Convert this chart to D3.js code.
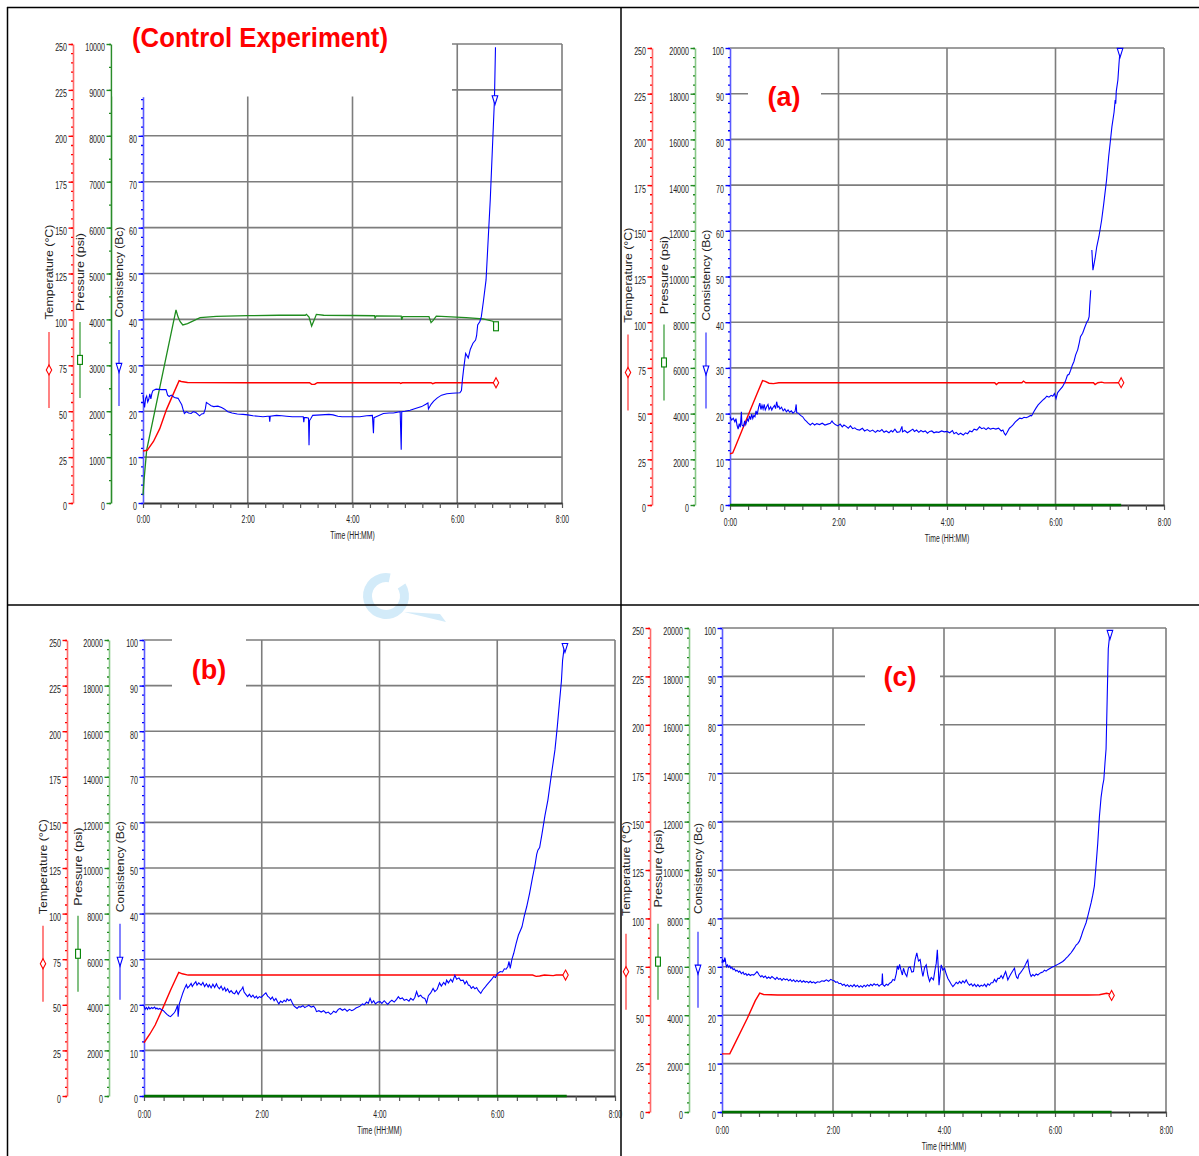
<!DOCTYPE html>
<html>
<head>
<meta charset="utf-8">
<script src="https://cdn.jsdelivr.net/npm/d3@7"></script>
<style>
  body { margin: 0; background: #fff; }
  svg text { font-family: "Liberation Sans", Arial, sans-serif; }
</style>
</head>
<body>
<svg id="chart" width="1199" height="1156"></svg>
<script>
// ---- tick labels ----
const timeTicks = [0, 2, 4, 6, 8];
const timeLabels = ["0:00", "2:00", "4:00", "6:00", "8:00"];
const tempTicks = [0, 25, 50, 75, 100, 125, 150, 175, 200, 225, 250];
const consTicks = [0, 10, 20, 30, 40, 50, 60, 70, 80, 90, 100];
const presTicks10k = [0, 1000, 2000, 3000, 4000, 5000, 6000, 7000, 8000, 9000, 10000];
const presTicks20k = [0, 2000, 4000, 6000, 8000, 10000, 12000, 14000, 16000, 18000, 20000];

// ---- series: [hours, value] ----
// Control experiment
const ctrlTemp = [[0,28.3],[0.08,28.7],[0.2,33.5],[0.32,40.5],[0.45,51],[0.6,60.8],[0.69,66.6],[0.73,66.2],[0.85,65.6],[2,65.5],[3.18,65.5],[3.22,64.6],[3.28,64.7],[3.33,65.5],[4.9,65.5],[4.92,65.1],[4.95,65.5],[5.5,65.5],[5.53,65.0],[5.58,65.5],[6.74,65.5]];
const ctrlPres = [[0,170],[0.02,500],[0.07,1150],[0.63,4205],[0.67,4050],[0.71,3950],[0.76,3880],[0.85,3910],[1.09,4037],[1.4,4065],[2.0,4081],[2.6,4090],[3.1,4090],[3.12,4110],[3.17,4050],[3.22,3856],[3.27,3990],[3.31,4110],[3.45,4090],[4.0,4085],[4.42,4080],[4.43,4030],[4.45,4075],[4.93,4070],[4.94,3990],[4.96,4060],[5.46,4060],[5.5,3930],[5.54,3980],[5.6,4070],[6.17,4040],[6.49,4010],[6.68,3960],[6.74,3850]];
const ctrlCons = [[0,23.5],[0.02,21.5],[0.03,20.8],[0.05,22.8],[0.07,23.3],[0.09,22.0],[0.11,22.6],[0.13,23.8],[0.15,22.7],[0.17,23.9],[0.19,24.5],[0.25,24.8],[0.35,24.7],[0.44,24.7],[0.47,23.5],[0.5,23.2],[0.54,23.5],[0.6,23.0],[0.67,22.8],[0.71,22.0],[0.74,21.4],[0.77,20.2],[0.79,19.5],[0.83,19.9],[0.87,19.6],[0.92,19.5],[0.96,19.9],[1.01,19.7],[1.05,19.3],[1.08,19.0],[1.12,19.4],[1.16,19.5],[1.19,20.5],[1.21,21.9],[1.25,21.6],[1.3,21.2],[1.35,21.0],[1.43,21.1],[1.5,20.8],[1.55,20.5],[1.62,19.9],[1.7,19.6],[1.8,19.4],[1.91,19.3],[2.0,19.2],[2.1,19.0],[2.2,18.9],[2.29,18.8],[2.38,18.9],[2.41,18.9],[2.42,17.7],[2.43,18.9],[2.55,19.1],[2.65,19.0],[2.74,18.9],[2.85,18.8],[2.93,18.8],[3.06,18.8],[3.07,17.6],[3.08,18.6],[3.12,18.6],[3.16,18.5],[3.17,12.6],[3.18,18.0],[3.2,18.3],[3.24,19.1],[3.4,19.2],[3.55,19.3],[3.63,19.2],[3.72,18.9],[3.8,18.8],[4.0,18.8],[4.14,18.8],[4.27,19.0],[4.38,19.1],[4.4,15.2],[4.41,18.6],[4.45,18.8],[4.59,19.5],[4.7,19.6],[4.78,19.6],[4.91,19.9],[4.93,11.6],[4.94,19.9],[5.0,20.0],[5.1,20.2],[5.2,20.6],[5.32,21.0],[5.4,21.5],[5.44,21.8],[5.45,20.5],[5.5,21.5],[5.55,22.2],[5.62,22.9],[5.7,23.5],[5.8,23.8],[5.9,23.9],[6.05,24.0],[6.08,24.5],[6.1,27.0],[6.12,29.0],[6.16,32.6],[6.19,32.0],[6.21,31.6],[6.25,33.5],[6.3,34.8],[6.35,35.5],[6.37,36.5],[6.39,38.8],[6.43,39.5],[6.46,40.6],[6.5,44.0],[6.55,48.6],[6.58,55.1],[6.63,66.0],[6.67,76.9],[6.71,87.8],[6.73,99.3]];
const ctrlConsMark = [6.72, 88.4];

// Test (a)
const aTemp = [[0,28.0],[0.05,28.5],[0.1,32],[0.31,47.3],[0.5,61],[0.6,68.0],[0.65,67.6],[0.72,66.6],[0.8,66.4],[0.9,66.9],[4.88,66.9],[4.91,65.9],[4.95,66.9],[5.38,66.9],[5.41,67.8],[5.45,66.9],[6.7,66.9],[6.73,65.9],[6.78,66.9],[6.85,67.2],[6.9,66.8],[7.21,66.9]];
const aPres = [[0,0],[7.21,0]];
const aCons = [[0,19.3],[0.03,18.6],[0.06,19.0],[0.09,18.2],[0.11,18.9],[0.13,17.4],[0.15,16.6],[0.17,17.8],[0.19,17.0],[0.21,20.4],[0.22,17.5],[0.25,17.2],[0.27,18.4],[0.29,17.6],[0.32,18.8],[0.34,18.4],[0.36,19.5],[0.38,18.7],[0.4,19.9],[0.42,18.9],[0.44,19.6],[0.46,19.3],[0.48,20.6],[0.5,19.8],[0.53,21.5],[0.55,22.3],[0.57,20.9],[0.59,21.8],[0.61,21.0],[0.63,22.0],[0.65,20.8],[0.68,21.6],[0.7,22.0],[0.72,20.9],[0.75,21.5],[0.77,20.8],[0.79,21.3],[0.82,21.8],[0.84,21.1],[0.86,22.6],[0.88,21.4],[0.9,21.6],[0.92,21.0],[0.95,21.4],[0.98,20.6],[1.01,21.0],[1.04,20.4],[1.07,20.8],[1.1,20.3],[1.13,20.6],[1.16,20.1],[1.2,20.5],[1.22,22.0],[1.23,20.2],[1.26,20.1],[1.3,19.6],[1.34,19.3],[1.38,18.6],[1.41,18.3],[1.44,17.9],[1.48,17.5],[1.52,17.9],[1.56,17.5],[1.6,17.8],[1.65,17.6],[1.7,17.9],[1.75,17.5],[1.8,17.7],[1.85,17.9],[1.88,18.4],[1.9,18.0],[1.94,17.6],[1.99,17.3],[2.03,17.7],[2.07,17.1],[2.1,17.5],[2.14,17.2],[2.18,16.8],[2.22,17.3],[2.26,16.7],[2.3,16.9],[2.34,16.5],[2.39,16.4],[2.44,16.8],[2.48,16.2],[2.53,16.5],[2.58,16.1],[2.63,16.4],[2.68,15.9],[2.72,16.3],[2.76,16.1],[2.8,16.5],[2.84,15.9],[2.88,16.2],[2.93,15.8],[2.97,16.3],[3.0,16.0],[3.04,16.6],[3.08,15.9],[3.13,16.0],[3.17,17.2],[3.18,16.0],[3.22,16.3],[3.27,15.8],[3.32,16.2],[3.37,16.6],[3.4,16.1],[3.44,16.4],[3.48,15.9],[3.52,16.3],[3.56,16.0],[3.6,16.2],[3.64,15.7],[3.68,16.1],[3.72,16.2],[3.76,15.8],[3.8,16.0],[3.85,15.9],[3.9,16.2],[3.95,16.0],[4.0,16.1],[4.05,15.8],[4.1,16.3],[4.13,15.6],[4.17,15.9],[4.21,15.4],[4.25,15.7],[4.3,15.3],[4.34,15.8],[4.38,15.6],[4.42,16.2],[4.46,16.0],[4.5,16.6],[4.55,16.4],[4.6,17.1],[4.64,16.7],[4.68,16.9],[4.72,16.5],[4.76,16.9],[4.8,16.6],[4.85,16.8],[4.9,16.6],[4.95,16.8],[5.0,16.2],[5.03,16.4],[5.06,15.6],[5.08,15.3],[5.11,15.9],[5.15,16.8],[5.19,17.2],[5.22,17.6],[5.26,18.2],[5.3,18.6],[5.34,19.0],[5.38,18.9],[5.42,19.2],[5.46,19.1],[5.5,19.3],[5.54,19.6],[5.56,19.5],[5.6,20.4],[5.64,21.2],[5.68,21.9],[5.72,22.4],[5.76,22.9],[5.8,23.3],[5.84,23.8],[5.88,23.6],[5.92,24.0],[5.95,23.8],[5.98,24.4],[6.01,23.3],[6.04,24.6],[6.08,25.2],[6.13,25.9],[6.18,27.0],[6.22,28.4],[6.25,28.6],[6.28,29.5],[6.31,30.6],[6.34,31.4],[6.37,32.8],[6.41,34.0],[6.44,35.6],[6.46,36.8],[6.5,37.6],[6.54,38.9],[6.58,40.1],[6.6,40.4],[6.62,41.2],[6.63,43.5],[6.65,47.0],null,[6.67,55.8],[6.69,51.4],[6.73,54.0],[6.76,56.5],[6.8,58.7],[6.85,62.3],[6.89,66.0],[6.94,71.0],[6.98,76.2],[7.01,79.5],[7.04,82.8],[7.08,86.0],[7.1,88.6],[7.11,87.8],[7.12,90.5],[7.15,93.0],[7.17,96.5],[7.19,99.6]];

// Test (b)
const bTemp = [[0,29.2],[0.1,34],[0.19,38.9],[0.33,49],[0.45,58],[0.55,65],[0.59,67.8],[0.65,67.0],[0.75,66.3],[6.6,66.3],[6.66,65.6],[6.72,65.8],[6.8,66.3],[6.95,66.0],[7.0,66.3],[7.16,66.3]];
const bPres = [[0,0],[7.18,0]];
const bCons = [[0,19.7],[0.02,19.0],[0.04,19.4],[0.06,19.0],[0.08,19.5],[0.1,19.1],[0.13,19.4],[0.15,19.2],[0.18,19.5],[0.2,19.1],[0.22,19.3],[0.24,19.0],[0.27,19.2],[0.3,18.9],[0.33,18.7],[0.36,18.3],[0.39,17.9],[0.42,17.6],[0.45,17.4],[0.48,17.8],[0.51,18.2],[0.53,18.6],[0.55,19.2],[0.57,19.9],[0.58,17.4],[0.6,20.2],[0.63,21.4],[0.66,22.6],[0.69,23.6],[0.72,24.4],[0.74,23.7],[0.77,24.1],[0.8,24.7],[0.82,24.0],[0.85,24.6],[0.88,25.1],[0.9,24.3],[0.93,24.8],[0.97,24.3],[1.0,24.9],[1.03,24.0],[1.06,24.6],[1.09,23.9],[1.11,24.4],[1.14,23.7],[1.17,24.5],[1.2,23.8],[1.23,24.6],[1.25,24.0],[1.28,23.5],[1.31,24.1],[1.34,23.2],[1.37,23.8],[1.39,23.0],[1.42,23.5],[1.45,22.7],[1.48,23.1],[1.51,22.6],[1.54,22.4],[1.57,23.1],[1.6,22.3],[1.63,23.0],[1.66,23.4],[1.68,23.9],[1.7,22.8],[1.73,22.3],[1.76,21.8],[1.79,22.3],[1.82,21.7],[1.85,22.1],[1.88,21.5],[1.91,21.9],[1.93,21.4],[1.96,21.8],[1.99,21.6],[2.02,22.0],[2.05,22.4],[2.07,22.6],[2.1,21.9],[2.13,21.6],[2.15,21.2],[2.18,21.7],[2.21,20.9],[2.24,21.4],[2.27,20.6],[2.29,20.2],[2.32,20.8],[2.35,20.5],[2.38,21.0],[2.41,20.7],[2.43,21.3],[2.46,20.9],[2.49,21.2],[2.52,20.4],[2.55,19.7],[2.58,19.4],[2.6,19.2],[2.63,19.6],[2.66,19.5],[2.7,19.8],[2.73,19.4],[2.76,19.6],[2.8,19.9],[2.84,19.5],[2.88,19.7],[2.91,19.2],[2.93,18.5],[2.97,18.7],[3.01,18.4],[3.05,18.7],[3.09,18.2],[3.13,18.4],[3.17,17.9],[3.19,18.1],[3.22,18.6],[3.26,18.3],[3.3,19.0],[3.33,19.2],[3.37,18.8],[3.41,19.1],[3.45,18.6],[3.49,19.0],[3.53,18.7],[3.56,18.9],[3.6,19.3],[3.64,19.5],[3.67,19.7],[3.71,20.2],[3.74,20.0],[3.78,20.6],[3.81,20.3],[3.84,21.4],[3.87,20.4],[3.9,20.9],[3.93,20.2],[3.97,20.6],[4.01,20.7],[4.04,20.3],[4.08,20.9],[4.11,20.5],[4.14,20.1],[4.18,20.7],[4.21,21.0],[4.25,20.6],[4.29,21.2],[4.32,21.8],[4.35,21.3],[4.39,21.5],[4.42,21.0],[4.46,21.2],[4.5,20.8],[4.53,21.4],[4.57,21.0],[4.6,21.6],[4.63,22.9],[4.66,21.8],[4.7,22.1],[4.73,21.6],[4.77,21.4],[4.8,20.4],[4.83,22.0],[4.87,22.6],[4.91,23.6],[4.94,22.9],[4.98,23.4],[5.02,24.8],[5.05,24.1],[5.09,24.9],[5.12,24.4],[5.14,25.4],[5.17,24.8],[5.21,25.6],[5.24,25.0],[5.28,26.5],[5.31,25.6],[5.35,25.9],[5.38,25.3],[5.42,25.4],[5.45,24.6],[5.48,25.2],[5.51,24.3],[5.53,24.3],[5.56,23.6],[5.59,24.0],[5.62,23.5],[5.65,23.8],[5.68,23.1],[5.72,22.5],[5.75,23.2],[5.79,23.8],[5.82,24.3],[5.86,24.9],[5.9,25.5],[5.94,26.2],[5.97,26.0],[6.0,26.8],[6.05,27.3],[6.09,27.2],[6.12,27.9],[6.15,27.8],[6.18,28.4],[6.2,29.5],[6.22,28.0],[6.25,30.0],[6.28,31.3],[6.32,33.4],[6.36,35.3],[6.39,36.2],[6.42,37.1],[6.46,39.5],[6.5,41.5],[6.55,44.5],[6.6,48.0],[6.64,50.5],[6.67,53.0],[6.69,53.9],[6.72,54.5],[6.76,57.5],[6.81,61.5],[6.86,64.9],[6.92,70.5],[6.98,75.9],[7.02,81.0],[7.06,86.8],[7.09,91.0],[7.11,95.6],[7.13,97.6],[7.15,98.9]];

// Test (c)
const cTemp = [[0,30.0],[0.14,30.0],[0.2,33.5],[0.45,48],[0.6,57.5],[0.68,61.4],[0.75,60.7],[1.0,60.4],[6.6,60.4],[6.8,60.6],[6.93,61.3],[6.98,61.0],[7.02,60.2]];
const cPres = [[0,0],[7.02,0]];
const cCons = [[0,30.8],[0.01,31.6],[0.02,30.9],[0.03,31.4],[0.04,31.0],[0.05,31.9],[0.06,31.5],[0.07,30.6],[0.08,30.0],[0.1,30.4],[0.12,29.9],[0.14,30.2],[0.16,29.7],[0.18,29.9],[0.2,29.4],[0.22,29.6],[0.25,29.1],[0.27,29.3],[0.3,28.9],[0.32,29.1],[0.35,28.6],[0.38,28.9],[0.4,28.4],[0.43,28.6],[0.45,28.2],[0.48,28.5],[0.51,28.2],[0.54,28.4],[0.57,28.3],[0.6,28.6],[0.63,29.0],[0.65,28.7],[0.67,28.3],[0.7,27.9],[0.72,28.2],[0.75,27.8],[0.78,28.1],[0.81,27.6],[0.84,27.9],[0.87,27.6],[0.9,28.0],[0.93,27.7],[0.96,27.4],[0.99,27.8],[1.02,27.4],[1.05,27.6],[1.08,27.2],[1.11,27.6],[1.14,27.3],[1.17,27.5],[1.2,27.1],[1.23,27.4],[1.26,27.0],[1.29,27.3],[1.32,26.9],[1.35,27.2],[1.38,26.9],[1.41,27.2],[1.44,26.8],[1.47,27.1],[1.5,26.8],[1.53,27.0],[1.56,26.7],[1.59,27.0],[1.62,26.7],[1.65,26.9],[1.68,26.6],[1.72,26.9],[1.76,26.8],[1.8,27.1],[1.84,27.0],[1.88,27.3],[1.92,27.0],[1.96,27.4],[1.99,27.2],[2.02,27.1],[2.05,26.8],[2.08,26.9],[2.11,26.5],[2.14,26.6],[2.17,26.2],[2.2,26.4],[2.23,26.0],[2.26,26.3],[2.29,25.9],[2.32,26.2],[2.35,25.9],[2.38,26.3],[2.41,25.9],[2.44,26.2],[2.47,25.8],[2.5,26.1],[2.53,25.8],[2.56,26.2],[2.59,25.9],[2.62,26.3],[2.65,26.0],[2.68,26.4],[2.71,26.1],[2.74,26.5],[2.77,26.2],[2.8,26.4],[2.83,26.0],[2.86,26.3],[2.88,26.4],[2.89,28.6],[2.9,26.3],[2.93,26.0],[2.96,26.4],[2.99,26.2],[3.02,26.6],[3.05,26.8],[3.08,27.4],[3.11,27.2],[3.14,28.6],[3.16,30.2],[3.18,29.4],[3.2,30.5],[3.22,29.5],[3.25,28.3],[3.27,29.7],[3.3,28.6],[3.33,28.0],[3.36,29.8],[3.39,30.0],[3.42,28.9],[3.45,29.0],[3.48,31.5],[3.51,32.9],[3.54,31.2],[3.57,31.5],[3.6,29.2],[3.62,28.0],[3.65,29.8],[3.68,30.4],[3.71,28.2],[3.74,27.0],[3.77,27.8],[3.81,27.3],[3.84,29.5],[3.86,30.7],[3.88,33.5],[3.9,29.0],[3.91,26.2],[3.93,28.5],[3.95,30.4],[3.98,29.3],[4.01,29.7],[4.04,28.5],[4.07,27.6],[4.1,27.0],[4.13,26.4],[4.16,25.9],[4.19,26.3],[4.22,26.8],[4.25,26.5],[4.28,27.0],[4.31,26.6],[4.34,27.1],[4.37,26.7],[4.4,27.3],[4.43,26.6],[4.46,26.2],[4.49,26.5],[4.52,26.0],[4.55,26.4],[4.58,25.9],[4.61,26.3],[4.64,25.9],[4.67,26.2],[4.7,26.0],[4.73,26.4],[4.76,25.9],[4.79,26.5],[4.82,26.2],[4.85,26.7],[4.88,26.7],[4.91,27.4],[4.94,26.9],[4.97,27.6],[5.0,27.6],[5.03,28.2],[5.06,27.6],[5.09,28.5],[5.11,29.0],[5.13,28.2],[5.15,27.3],[5.18,28.0],[5.21,28.6],[5.24,29.2],[5.27,29.7],[5.29,28.5],[5.31,27.8],[5.33,27.6],[5.35,28.4],[5.38,28.8],[5.41,29.3],[5.44,29.8],[5.47,30.5],[5.49,31.0],[5.51,31.4],[5.53,29.6],[5.55,28.6],[5.57,28.0],[5.6,28.4],[5.63,28.1],[5.66,28.5],[5.69,28.3],[5.72,28.6],[5.75,28.8],[5.78,28.9],[5.81,29.3],[5.84,29.1],[5.87,29.4],[5.9,29.6],[5.93,29.8],[5.96,30.0],[5.99,30.1],[6.02,30.3],[6.05,30.5],[6.08,30.7],[6.11,30.9],[6.14,31.1],[6.17,31.4],[6.2,31.8],[6.23,32.1],[6.26,32.5],[6.29,32.9],[6.32,33.4],[6.35,33.9],[6.38,34.5],[6.41,34.8],[6.44,35.3],[6.47,36.2],[6.5,37.3],[6.53,38.2],[6.56,39.1],[6.59,40.4],[6.62,41.8],[6.65,43.2],[6.68,44.8],[6.71,46.7],[6.74,51.0],[6.77,55.5],[6.8,61.0],[6.83,65.0],[6.86,67.5],[6.88,68.7],[6.9,72.0],[6.92,75.0],[6.94,85.3],[6.96,95.7],[6.98,98.0],[6.99,99.2]];

// ---- layout ----
const RED = "#ff0000", GREEN = "#008000", BLUE = "#0000ff";
const panels = [
  { tempX: 73, presX: 111, consX: 143, right: 562, top: 44, bottom: 503,
    presMax: 10000, presTicks: presTicks10k, presStep: 500, consTop: 88.5, consLabelMax: 80,
    temp: ctrlTemp, pres: ctrlPres, cons: ctrlCons, consMark: ctrlConsMark, presMark: true,
    presAxisColor: "#2a8c2a", tickPad: 12, timeDy: 36,
    label: "(Control Experiment)", labelX: 260, labelY: 47, labelLen: 256,
    box: [112.5, 9, 339.5, 87.5] },
  { tempX: 652, presX: 695, consX: 730, right: 1164, top: 48, bottom: 505,
    presMax: 20000, presTicks: presTicks20k, presStep: 400, consTop: 100, consLabelMax: 100,
    temp: aTemp, pres: aPres, cons: aCons, presMark: false,
    presAxisColor: "#88c888", tickPad: 13, timeDy: 37,
    label: "(a)", labelX: 784, labelY: 106,
    box: [748, 62, 73, 60] },
  { tempX: 67, presX: 109, consX: 144, right: 615, top: 640, bottom: 1096,
    presMax: 20000, presTicks: presTicks20k, presStep: 400, consTop: 100, consLabelMax: 100,
    temp: bTemp, pres: bPres, cons: bCons, presMark: false,
    presAxisColor: "#88c888", tickPad: 14.5, timeDy: 38,
    label: "(b)", labelX: 209, labelY: 679,
    box: [172, 636, 74, 60] },
  { tempX: 650, presX: 689, consX: 722, right: 1166, top: 628, bottom: 1112,
    presMax: 20000, presTicks: presTicks20k, presStep: 400, consTop: 100, consLabelMax: 100,
    temp: cTemp, pres: cPres, cons: cCons, presMark: false,
    presAxisColor: "#88c888", tickPad: 14.5, timeDy: 38.5,
    label: "(c)", labelX: 900, labelY: 686,
    box: [865, 650, 75, 92] }
];

const svg = d3.select("#chart");
svg.append("rect").attr("width", 1199).attr("height", 1156).attr("fill", "#fff");

// faint watermark ring between the panels
svg.append("path")
  .attr("transform", "translate(386,596)")
  .attr("d", d3.arc()({ innerRadius: 14, outerRadius: 23, startAngle: 1.0, endAngle: 2 * Math.PI + 0.2 }))
  .attr("fill", "#d3ebf9");
svg.append("path").attr("d", "M404,612 L446,622 L440,614 Z").attr("fill", "#d3ebf9");

// frame lines
const frame = svg.append("g").attr("stroke", "#000").attr("stroke-width", 1.5);
frame.append("line").attr("x1", 7).attr("x2", 1199).attr("y1", 7.5).attr("y2", 7.5);
frame.append("line").attr("x1", 7.5).attr("x2", 7.5).attr("y1", 7).attr("y2", 1156);
frame.append("line").attr("x1", 621).attr("x2", 621).attr("y1", 7).attr("y2", 1156);
frame.append("line").attr("x1", 7).attr("x2", 1199).attr("y1", 605).attr("y2", 605);

const SX = 0.62; // condensed tick font
function narrow(sel) {
  sel.each(function () {
    const t = d3.select(this);
    const x0 = +t.attr("x") || 0;
    t.attr("x", x0 / SX).attr("transform", `scale(${SX},1)`);
  });
}

function marker(g, kind, cx, cy, color) {
  if (kind === "diamond") {
    g.append("path").attr("d", `M${cx},${cy - 5}L${cx + 2.7},${cy}L${cx},${cy + 5}L${cx - 2.7},${cy}Z`)
      .attr("fill", "#fff").attr("stroke", color).attr("stroke-width", 1.1);
  } else if (kind === "square") {
    g.append("rect").attr("x", cx - 2.4).attr("y", cy - 4.5).attr("width", 4.8).attr("height", 9)
      .attr("fill", "#fff").attr("stroke", color).attr("stroke-width", 1.1);
  } else {
    g.append("path").attr("d", `M${cx - 2.8},${cy - 4.5}L${cx + 2.8},${cy - 4.5}L${cx},${cy + 4.5}Z`)
      .attr("fill", "#fff").attr("stroke", color).attr("stroke-width", 1.1);
  }
}

function drawPanel(p) {
  const g = svg.append("g");
  const H = p.bottom - p.top;
  const x = d3.scaleLinear().domain([0, 8]).range([p.consX, p.right]);
  const yC = d3.scaleLinear().domain([0, 100]).range([p.bottom, p.top]);
  const yT = d3.scaleLinear().domain([0, 250]).range([p.bottom, p.top]);
  const yP = d3.scaleLinear().domain([0, p.presMax]).range([p.bottom, p.top]);

  // grid
  const grid = g.append("g").attr("stroke", "#7d7d7d").attr("stroke-width", 1.6);
  grid.selectAll(".h").data(consTicks.slice(1)).join("line")
    .attr("x1", p.consX).attr("x2", p.right).attr("y1", d => yC(d)).attr("y2", d => yC(d));
  grid.selectAll(".v").data(timeTicks.slice(1)).join("line")
    .attr("x1", d => x(d)).attr("x2", d => x(d)).attr("y1", p.top).attr("y2", p.bottom);

  // time axis
  const xa = g.append("g").attr("transform", `translate(0,${p.bottom})`);
  xa.call(d3.axisBottom(x).tickValues(d3.range(0, 8.001, 1 / 3)).tickSize(5).tickSizeOuter(0).tickFormat(""));
  xa.selectAll(".tick line").attr("stroke", "#555").attr("stroke-width", 1.2);
  xa.select(".domain").attr("stroke", "#333").attr("stroke-width", 2.2);
  const xl = g.append("g").attr("transform", `translate(0,${p.bottom})`);
  xl.call(d3.axisBottom(x).tickValues(timeTicks).tickSize(0).tickPadding(p.tickPad).tickFormat((d, i) => timeLabels[i]));
  xl.select(".domain").remove();
  xl.selectAll("text").attr("font-size", 11).attr("fill", "#222").call(narrow);
  g.append("text").attr("x", x(4) / SX).attr("y", p.bottom + p.timeDy)
    .attr("transform", `scale(${SX},1)`).attr("text-anchor", "middle")
    .attr("font-size", 11).attr("fill", "#222").text("Time (HH:MM)");

  // y axes
  function yAxis(scale, xPos, ticks, minorStep, lineColor, tickColor, topV) {
    const minor = g.append("g").attr("transform", `translate(${xPos},0)`);
    minor.call(d3.axisLeft(scale.copy().domain([0, topV]).range([scale(0), scale(topV)]))
      .tickValues(d3.range(0, topV + 0.001, minorStep)).tickSize(2).tickSizeOuter(0).tickFormat(""));
    minor.selectAll(".tick line").attr("stroke", tickColor).attr("stroke-width", 1.3);
    minor.select(".domain").attr("stroke", lineColor).attr("stroke-width", 1.6);
    const major = g.append("g").attr("transform", `translate(${xPos},0)`);
    major.call(d3.axisLeft(scale).tickValues(ticks).tickSize(4.5).tickSizeOuter(0).tickPadding(1.5).tickFormat(d3.format("d")));
    major.select(".domain").remove();
    major.selectAll(".tick line").attr("stroke", tickColor).attr("stroke-width", 1.4);
    major.selectAll("text").attr("font-size", 11.5).attr("fill", "#222").attr("dy", "0.6em").call(narrow);
  }
  yAxis(yT, p.tempX, tempTicks, 5, "#ff6a6a", RED, 250);
  yAxis(yP, p.presX, p.presTicks, p.presStep, p.presAxisColor, "#1f8a1f", p.presMax);
  yAxis(yC, p.consX, consTicks.filter(v => v <= p.consLabelMax), 2, "#5a5aff", BLUE, p.consTop);

  // axis titles + legend glyphs
  const mid = p.bottom - 0.503 * H;
  const leg = p.bottom - 0.29 * H;
  const titles = [
    { t: "Temperature (°C)", ax: p.tempX - 20.5, len: 95, lx: p.tempX - 24, ly: leg, c: RED, k: "diamond" },
    { t: "Pressure (psi)", ax: p.presX - 27.5, len: 78, lx: p.presX - 31, ly: leg - 10, c: GREEN, k: "square" },
    { t: "Consistency (Bc)", ax: p.consX - 20.5, len: 91, lx: p.consX - 24, ly: leg - 2, c: BLUE, k: "tri" }
  ];
  titles.forEach(d => {
    g.append("text").attr("transform", `translate(${d.ax},${mid}) rotate(-90)`)
      .attr("text-anchor", "middle").attr("font-size", 10).attr("fill", "#222")
      .attr("textLength", d.len).attr("lengthAdjust", "spacingAndGlyphs").text(d.t);
    g.append("line").attr("x1", d.lx).attr("x2", d.lx).attr("y1", d.ly - 38).attr("y2", d.ly + 38)
      .attr("stroke", d.c).attr("stroke-width", 1.3).attr("opacity", 0.75);
    marker(g, d.k, d.lx, d.ly, d.c);
  });

  // box hiding the top of the grid where the label sits
  g.append("rect").attr("x", p.box[0]).attr("y", p.box[1]).attr("width", p.box[2]).attr("height", p.box[3]).attr("fill", "#fff");
  const lab = g.append("text").attr("x", p.labelX).attr("y", p.labelY).attr("text-anchor", "middle")
    .attr("font-size", 27).attr("font-weight", "bold").attr("fill", RED).text(p.label);
  if (p.labelLen) lab.attr("textLength", p.labelLen).attr("lengthAdjust", "spacingAndGlyphs");

  // series
  const lineOf = y => d3.line().defined(d => d != null).x(d => x(d[0])).y(d => y(d[1]));
  g.append("path").datum(p.pres).attr("d", lineOf(yP)).attr("fill", "none")
    .attr("stroke", p.presMark ? "#1e8c1e" : "#007000").attr("stroke-width", p.presMark ? 1.3 : 2.6);
  g.append("path").datum(p.temp).attr("d", lineOf(yT)).attr("fill", "none").attr("stroke", RED).attr("stroke-width", 1.4);
  g.append("path").datum(p.cons).attr("d", lineOf(yC)).attr("fill", "none").attr("stroke", BLUE).attr("stroke-width", 1.1);

  const lt = p.temp[p.temp.length - 1];
  marker(g, "diamond", x(lt[0]), yT(lt[1]), RED);
  if (p.presMark) {
    const lp = p.pres[p.pres.length - 1];
    marker(g, "square", x(lp[0]), yP(lp[1]), GREEN);
  }
  const lc = p.consMark || p.cons[p.cons.length - 1];
  marker(g, "tri", x(lc[0]), yC(lc[1]) + 3, BLUE);
}

panels.forEach(drawPanel);
</script>
</body>
</html>
